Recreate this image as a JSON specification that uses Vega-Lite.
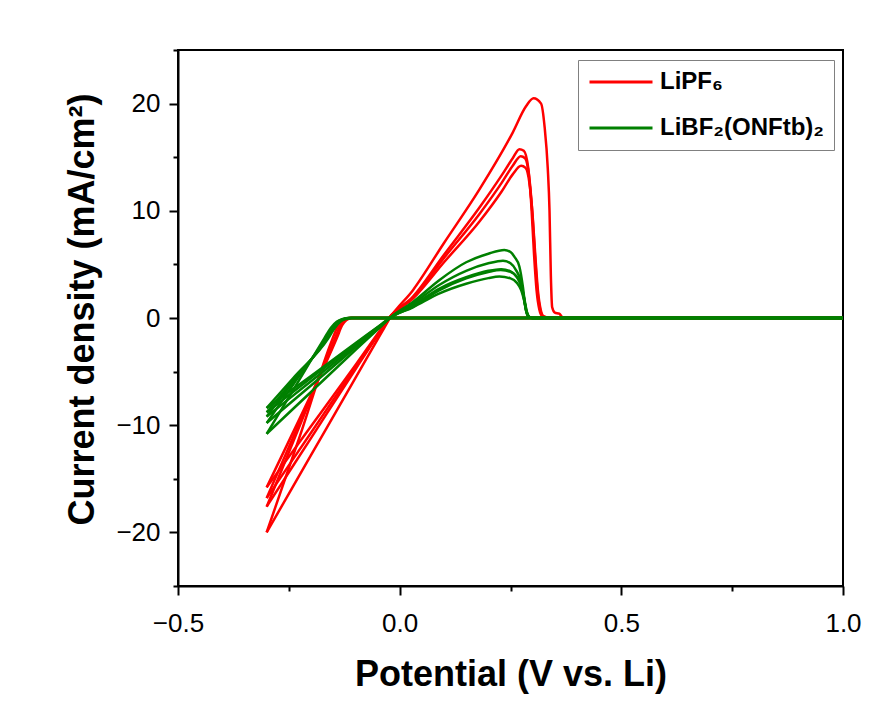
{
"$schema": "https://vega.github.io/schema/vega-lite/v6.json",
"width": 665, "height": 536,
"autosize": {"type": "none"},
"padding": {"left": 178, "top": 50, "right": 29, "bottom": 116},
"background": "white",
"config": {
  "view": {"stroke": "black", "strokeWidth": 2},
  "axis": {"domainColor": "black", "domainWidth": 2, "tickColor": "black", "tickWidth": 2, "grid": false, "labelFont": "Liberation Sans", "labelColor": "black", "labelFontSize": 26, "titleFont": "Liberation Sans", "titleFontWeight": "bold", "titleColor": "black", "titleFontSize": 36, "labelFlush": false, "labelOverlap": false}
},
"data": {"values": [
{"s":"LiPF₆","g":"R1c","x":1,"y":0},{"s":"LiPF₆","g":"R1c","x":0.3,"y":0},{"s":"LiPF₆","g":"R1c","x":-0.115,"y":0},{"s":"LiPF₆","g":"R1c","x":-0.128,"y":-0.2},{"s":"LiPF₆","g":"R1c","x":-0.14,"y":-0.8},{"s":"LiPF₆","g":"R1c","x":-0.152,"y":-2.0},{"s":"LiPF₆","g":"R1c","x":-0.225,"y":-11.0},{"s":"LiPF₆","g":"R1c","x":-0.3,"y":-20.0},
{"s":"LiPF₆","g":"R1a","x":-0.3,"y":-20},{"s":"LiPF₆","g":"R1a","x":-0.2,"y":-12.8},{"s":"LiPF₆","g":"R1a","x":-0.1,"y":-5.6},{"s":"LiPF₆","g":"R1a","x":-0.04,"y":-1.3},{"s":"LiPF₆","g":"R1a","x":-0.022,"y":0},{"s":"LiPF₆","g":"R1a","x":0.03,"y":2.6},{"s":"LiPF₆","g":"R1a","x":0.1,"y":7.0},{"s":"LiPF₆","g":"R1a","x":0.18,"y":12.0},{"s":"LiPF₆","g":"R1a","x":0.255,"y":17.3},{"s":"LiPF₆","g":"R1a","x":0.285,"y":19.75},{"s":"LiPF₆","g":"R1a","x":0.302,"y":20.5},{"s":"LiPF₆","g":"R1a","x":0.319,"y":20.0},{"s":"LiPF₆","g":"R1a","x":0.327,"y":17.8},{"s":"LiPF₆","g":"R1a","x":0.334,"y":14.0},{"s":"LiPF₆","g":"R1a","x":0.338,"y":10.0},{"s":"LiPF₆","g":"R1a","x":0.341,"y":4.0},{"s":"LiPF₆","g":"R1a","x":0.344,"y":1.0},{"s":"LiPF₆","g":"R1a","x":0.35,"y":0.5},{"s":"LiPF₆","g":"R1a","x":0.36,"y":0.4},{"s":"LiPF₆","g":"R1a","x":0.368,"y":0.05},{"s":"LiPF₆","g":"R1a","x":0.45,"y":0},{"s":"LiPF₆","g":"R1a","x":1,"y":0},
{"s":"LiPF₆","g":"R2c","x":1,"y":0},{"s":"LiPF₆","g":"R2c","x":0.3,"y":0},{"s":"LiPF₆","g":"R2c","x":-0.112,"y":0},{"s":"LiPF₆","g":"R2c","x":-0.124,"y":-0.2},{"s":"LiPF₆","g":"R2c","x":-0.134,"y":-0.7},{"s":"LiPF₆","g":"R2c","x":-0.145,"y":-1.8},{"s":"LiPF₆","g":"R2c","x":-0.22,"y":-9.5},{"s":"LiPF₆","g":"R2c","x":-0.3,"y":-17.6},
{"s":"LiPF₆","g":"R2a","x":-0.3,"y":-17.6},{"s":"LiPF₆","g":"R2a","x":-0.2,"y":-11.2},{"s":"LiPF₆","g":"R2a","x":-0.1,"y":-4.8},{"s":"LiPF₆","g":"R2a","x":-0.04,"y":-1.0},{"s":"LiPF₆","g":"R2a","x":-0.024,"y":0},{"s":"LiPF₆","g":"R2a","x":0.03,"y":2.0},{"s":"LiPF₆","g":"R2a","x":0.1,"y":5.9},{"s":"LiPF₆","g":"R2a","x":0.18,"y":10.3},{"s":"LiPF₆","g":"R2a","x":0.23,"y":13.3},{"s":"LiPF₆","g":"R2a","x":0.255,"y":14.9},{"s":"LiPF₆","g":"R2a","x":0.27,"y":15.75},{"s":"LiPF₆","g":"R2a","x":0.28,"y":15.6},{"s":"LiPF₆","g":"R2a","x":0.29,"y":14.0},{"s":"LiPF₆","g":"R2a","x":0.297,"y":10.5},{"s":"LiPF₆","g":"R2a","x":0.303,"y":6.0},{"s":"LiPF₆","g":"R2a","x":0.309,"y":2.5},{"s":"LiPF₆","g":"R2a","x":0.315,"y":0.8},{"s":"LiPF₆","g":"R2a","x":0.322,"y":0.15},{"s":"LiPF₆","g":"R2a","x":0.34,"y":0},{"s":"LiPF₆","g":"R2a","x":1,"y":0},
{"s":"LiPF₆","g":"R3c","x":1,"y":0},{"s":"LiPF₆","g":"R3c","x":0.3,"y":0},{"s":"LiPF₆","g":"R3c","x":-0.11,"y":0},{"s":"LiPF₆","g":"R3c","x":-0.122,"y":-0.2},{"s":"LiPF₆","g":"R3c","x":-0.132,"y":-0.7},{"s":"LiPF₆","g":"R3c","x":-0.143,"y":-1.8},{"s":"LiPF₆","g":"R3c","x":-0.22,"y":-9.2},{"s":"LiPF₆","g":"R3c","x":-0.3,"y":-16.8},
{"s":"LiPF₆","g":"R3a","x":-0.3,"y":-16.8},{"s":"LiPF₆","g":"R3a","x":-0.2,"y":-10.7},{"s":"LiPF₆","g":"R3a","x":-0.1,"y":-4.6},{"s":"LiPF₆","g":"R3a","x":-0.04,"y":-1.0},{"s":"LiPF₆","g":"R3a","x":-0.024,"y":0},{"s":"LiPF₆","g":"R3a","x":0.03,"y":1.9},{"s":"LiPF₆","g":"R3a","x":0.1,"y":5.6},{"s":"LiPF₆","g":"R3a","x":0.18,"y":9.7},{"s":"LiPF₆","g":"R3a","x":0.23,"y":12.6},{"s":"LiPF₆","g":"R3a","x":0.255,"y":14.2},{"s":"LiPF₆","g":"R3a","x":0.273,"y":15.1},{"s":"LiPF₆","g":"R3a","x":0.283,"y":14.9},{"s":"LiPF₆","g":"R3a","x":0.292,"y":13.2},{"s":"LiPF₆","g":"R3a","x":0.299,"y":10.0},{"s":"LiPF₆","g":"R3a","x":0.305,"y":6.0},{"s":"LiPF₆","g":"R3a","x":0.311,"y":2.5},{"s":"LiPF₆","g":"R3a","x":0.317,"y":0.8},{"s":"LiPF₆","g":"R3a","x":0.324,"y":0.15},{"s":"LiPF₆","g":"R3a","x":0.34,"y":0},{"s":"LiPF₆","g":"R3a","x":1,"y":0},
{"s":"LiPF₆","g":"R4c","x":1,"y":0},{"s":"LiPF₆","g":"R4c","x":0.3,"y":0},{"s":"LiPF₆","g":"R4c","x":-0.108,"y":0},{"s":"LiPF₆","g":"R4c","x":-0.12,"y":-0.2},{"s":"LiPF₆","g":"R4c","x":-0.13,"y":-0.7},{"s":"LiPF₆","g":"R4c","x":-0.141,"y":-1.8},{"s":"LiPF₆","g":"R4c","x":-0.22,"y":-8.9},{"s":"LiPF₆","g":"R4c","x":-0.3,"y":-15.8},
{"s":"LiPF₆","g":"R4a","x":-0.3,"y":-15.8},{"s":"LiPF₆","g":"R4a","x":-0.2,"y":-10.1},{"s":"LiPF₆","g":"R4a","x":-0.1,"y":-4.4},{"s":"LiPF₆","g":"R4a","x":-0.04,"y":-0.9},{"s":"LiPF₆","g":"R4a","x":-0.024,"y":0},{"s":"LiPF₆","g":"R4a","x":0.03,"y":1.8},{"s":"LiPF₆","g":"R4a","x":0.1,"y":5.2},{"s":"LiPF₆","g":"R4a","x":0.18,"y":9.0},{"s":"LiPF₆","g":"R4a","x":0.23,"y":11.8},{"s":"LiPF₆","g":"R4a","x":0.255,"y":13.4},{"s":"LiPF₆","g":"R4a","x":0.274,"y":14.2},{"s":"LiPF₆","g":"R4a","x":0.284,"y":14.0},{"s":"LiPF₆","g":"R4a","x":0.293,"y":12.5},{"s":"LiPF₆","g":"R4a","x":0.3,"y":9.5},{"s":"LiPF₆","g":"R4a","x":0.306,"y":5.8},{"s":"LiPF₆","g":"R4a","x":0.312,"y":2.5},{"s":"LiPF₆","g":"R4a","x":0.318,"y":0.8},{"s":"LiPF₆","g":"R4a","x":0.325,"y":0.15},{"s":"LiPF₆","g":"R4a","x":0.34,"y":0},{"s":"LiPF₆","g":"R4a","x":1,"y":0},
{"s":"LiBF₂(ONFtb)₂","g":"G1c","x":1,"y":0},{"s":"LiBF₂(ONFtb)₂","g":"G1c","x":0.3,"y":0},{"s":"LiBF₂(ONFtb)₂","g":"G1c","x":-0.115,"y":0},{"s":"LiBF₂(ONFtb)₂","g":"G1c","x":-0.13,"y":-0.1},{"s":"LiBF₂(ONFtb)₂","g":"G1c","x":-0.142,"y":-0.35},{"s":"LiBF₂(ONFtb)₂","g":"G1c","x":-0.155,"y":-0.9},{"s":"LiBF₂(ONFtb)₂","g":"G1c","x":-0.17,"y":-1.9},{"s":"LiBF₂(ONFtb)₂","g":"G1c","x":-0.24,"y":-6.7},{"s":"LiBF₂(ONFtb)₂","g":"G1c","x":-0.3,"y":-10.8},
{"s":"LiBF₂(ONFtb)₂","g":"G1a","x":-0.3,"y":-10.8},{"s":"LiBF₂(ONFtb)₂","g":"G1a","x":-0.2,"y":-6.9},{"s":"LiBF₂(ONFtb)₂","g":"G1a","x":-0.1,"y":-3.0},{"s":"LiBF₂(ONFtb)₂","g":"G1a","x":-0.04,"y":-0.7},{"s":"LiBF₂(ONFtb)₂","g":"G1a","x":-0.022,"y":0},{"s":"LiBF₂(ONFtb)₂","g":"G1a","x":0.03,"y":1.5},{"s":"LiBF₂(ONFtb)₂","g":"G1a","x":0.09,"y":3.55},{"s":"LiBF₂(ONFtb)₂","g":"G1a","x":0.15,"y":5.2},{"s":"LiBF₂(ONFtb)₂","g":"G1a","x":0.2,"y":6.0},{"s":"LiBF₂(ONFtb)₂","g":"G1a","x":0.236,"y":6.35},{"s":"LiBF₂(ONFtb)₂","g":"G1a","x":0.25,"y":6.15},{"s":"LiBF₂(ONFtb)₂","g":"G1a","x":0.259,"y":5.7},{"s":"LiBF₂(ONFtb)₂","g":"G1a","x":0.27,"y":4.8},{"s":"LiBF₂(ONFtb)₂","g":"G1a","x":0.278,"y":2.9},{"s":"LiBF₂(ONFtb)₂","g":"G1a","x":0.284,"y":0.9},{"s":"LiBF₂(ONFtb)₂","g":"G1a","x":0.29,"y":0.15},{"s":"LiBF₂(ONFtb)₂","g":"G1a","x":0.3,"y":0},{"s":"LiBF₂(ONFtb)₂","g":"G1a","x":1,"y":0},
{"s":"LiBF₂(ONFtb)₂","g":"G2c","x":1,"y":0},{"s":"LiBF₂(ONFtb)₂","g":"G2c","x":0.3,"y":0},{"s":"LiBF₂(ONFtb)₂","g":"G2c","x":-0.113,"y":0},{"s":"LiBF₂(ONFtb)₂","g":"G2c","x":-0.128,"y":-0.1},{"s":"LiBF₂(ONFtb)₂","g":"G2c","x":-0.14,"y":-0.35},{"s":"LiBF₂(ONFtb)₂","g":"G2c","x":-0.152,"y":-0.9},{"s":"LiBF₂(ONFtb)₂","g":"G2c","x":-0.167,"y":-1.9},{"s":"LiBF₂(ONFtb)₂","g":"G2c","x":-0.24,"y":-6.2},{"s":"LiBF₂(ONFtb)₂","g":"G2c","x":-0.3,"y":-9.8},
{"s":"LiBF₂(ONFtb)₂","g":"G2a","x":-0.3,"y":-9.8},{"s":"LiBF₂(ONFtb)₂","g":"G2a","x":-0.2,"y":-6.3},{"s":"LiBF₂(ONFtb)₂","g":"G2a","x":-0.1,"y":-2.75},{"s":"LiBF₂(ONFtb)₂","g":"G2a","x":-0.04,"y":-0.65},{"s":"LiBF₂(ONFtb)₂","g":"G2a","x":-0.022,"y":0},{"s":"LiBF₂(ONFtb)₂","g":"G2a","x":0.03,"y":1.35},{"s":"LiBF₂(ONFtb)₂","g":"G2a","x":0.09,"y":3.1},{"s":"LiBF₂(ONFtb)₂","g":"G2a","x":0.15,"y":4.4},{"s":"LiBF₂(ONFtb)₂","g":"G2a","x":0.2,"y":5.1},{"s":"LiBF₂(ONFtb)₂","g":"G2a","x":0.233,"y":5.35},{"s":"LiBF₂(ONFtb)₂","g":"G2a","x":0.25,"y":5.1},{"s":"LiBF₂(ONFtb)₂","g":"G2a","x":0.262,"y":4.5},{"s":"LiBF₂(ONFtb)₂","g":"G2a","x":0.272,"y":3.6},{"s":"LiBF₂(ONFtb)₂","g":"G2a","x":0.279,"y":2.2},{"s":"LiBF₂(ONFtb)₂","g":"G2a","x":0.285,"y":0.7},{"s":"LiBF₂(ONFtb)₂","g":"G2a","x":0.291,"y":0.1},{"s":"LiBF₂(ONFtb)₂","g":"G2a","x":0.3,"y":0},{"s":"LiBF₂(ONFtb)₂","g":"G2a","x":1,"y":0},
{"s":"LiBF₂(ONFtb)₂","g":"G3c","x":1,"y":0},{"s":"LiBF₂(ONFtb)₂","g":"G3c","x":0.3,"y":0},{"s":"LiBF₂(ONFtb)₂","g":"G3c","x":-0.111,"y":0},{"s":"LiBF₂(ONFtb)₂","g":"G3c","x":-0.126,"y":-0.1},{"s":"LiBF₂(ONFtb)₂","g":"G3c","x":-0.138,"y":-0.35},{"s":"LiBF₂(ONFtb)₂","g":"G3c","x":-0.15,"y":-0.9},{"s":"LiBF₂(ONFtb)₂","g":"G3c","x":-0.165,"y":-1.9},{"s":"LiBF₂(ONFtb)₂","g":"G3c","x":-0.24,"y":-5.95},{"s":"LiBF₂(ONFtb)₂","g":"G3c","x":-0.3,"y":-9.2},
{"s":"LiBF₂(ONFtb)₂","g":"G3a","x":-0.3,"y":-9.2},{"s":"LiBF₂(ONFtb)₂","g":"G3a","x":-0.2,"y":-5.9},{"s":"LiBF₂(ONFtb)₂","g":"G3a","x":-0.1,"y":-2.6},{"s":"LiBF₂(ONFtb)₂","g":"G3a","x":-0.04,"y":-0.6},{"s":"LiBF₂(ONFtb)₂","g":"G3a","x":-0.022,"y":0},{"s":"LiBF₂(ONFtb)₂","g":"G3a","x":0.03,"y":1.2},{"s":"LiBF₂(ONFtb)₂","g":"G3a","x":0.09,"y":2.75},{"s":"LiBF₂(ONFtb)₂","g":"G3a","x":0.15,"y":3.8},{"s":"LiBF₂(ONFtb)₂","g":"G3a","x":0.2,"y":4.4},{"s":"LiBF₂(ONFtb)₂","g":"G3a","x":0.229,"y":4.55},{"s":"LiBF₂(ONFtb)₂","g":"G3a","x":0.25,"y":4.35},{"s":"LiBF₂(ONFtb)₂","g":"G3a","x":0.263,"y":3.9},{"s":"LiBF₂(ONFtb)₂","g":"G3a","x":0.273,"y":3.1},{"s":"LiBF₂(ONFtb)₂","g":"G3a","x":0.28,"y":1.9},{"s":"LiBF₂(ONFtb)₂","g":"G3a","x":0.286,"y":0.6},{"s":"LiBF₂(ONFtb)₂","g":"G3a","x":0.292,"y":0.1},{"s":"LiBF₂(ONFtb)₂","g":"G3a","x":0.3,"y":0},{"s":"LiBF₂(ONFtb)₂","g":"G3a","x":1,"y":0},
{"s":"LiBF₂(ONFtb)₂","g":"G4c","x":1,"y":0},{"s":"LiBF₂(ONFtb)₂","g":"G4c","x":0.3,"y":0},{"s":"LiBF₂(ONFtb)₂","g":"G4c","x":-0.109,"y":0},{"s":"LiBF₂(ONFtb)₂","g":"G4c","x":-0.124,"y":-0.1},{"s":"LiBF₂(ONFtb)₂","g":"G4c","x":-0.136,"y":-0.35},{"s":"LiBF₂(ONFtb)₂","g":"G4c","x":-0.148,"y":-0.9},{"s":"LiBF₂(ONFtb)₂","g":"G4c","x":-0.163,"y":-1.9},{"s":"LiBF₂(ONFtb)₂","g":"G4c","x":-0.24,"y":-5.8},{"s":"LiBF₂(ONFtb)₂","g":"G4c","x":-0.3,"y":-8.8},
{"s":"LiBF₂(ONFtb)₂","g":"G4a","x":-0.3,"y":-8.8},{"s":"LiBF₂(ONFtb)₂","g":"G4a","x":-0.2,"y":-5.6},{"s":"LiBF₂(ONFtb)₂","g":"G4a","x":-0.1,"y":-2.45},{"s":"LiBF₂(ONFtb)₂","g":"G4a","x":-0.04,"y":-0.55},{"s":"LiBF₂(ONFtb)₂","g":"G4a","x":-0.022,"y":0},{"s":"LiBF₂(ONFtb)₂","g":"G4a","x":0.03,"y":1.0},{"s":"LiBF₂(ONFtb)₂","g":"G4a","x":0.09,"y":2.3},{"s":"LiBF₂(ONFtb)₂","g":"G4a","x":0.15,"y":3.2},{"s":"LiBF₂(ONFtb)₂","g":"G4a","x":0.2,"y":3.72},{"s":"LiBF₂(ONFtb)₂","g":"G4a","x":0.225,"y":3.86},{"s":"LiBF₂(ONFtb)₂","g":"G4a","x":0.25,"y":3.7},{"s":"LiBF₂(ONFtb)₂","g":"G4a","x":0.264,"y":3.3},{"s":"LiBF₂(ONFtb)₂","g":"G4a","x":0.274,"y":2.6},{"s":"LiBF₂(ONFtb)₂","g":"G4a","x":0.281,"y":1.6},{"s":"LiBF₂(ONFtb)₂","g":"G4a","x":0.287,"y":0.5},{"s":"LiBF₂(ONFtb)₂","g":"G4a","x":0.293,"y":0.08},{"s":"LiBF₂(ONFtb)₂","g":"G4a","x":0.3,"y":0},{"s":"LiBF₂(ONFtb)₂","g":"G4a","x":1,"y":0},
{"s":"LiBF₂(ONFtb)₂","g":"G5c","x":1,"y":0},{"s":"LiBF₂(ONFtb)₂","g":"G5c","x":0.3,"y":0},{"s":"LiBF₂(ONFtb)₂","g":"G5c","x":-0.107,"y":0},{"s":"LiBF₂(ONFtb)₂","g":"G5c","x":-0.122,"y":-0.1},{"s":"LiBF₂(ONFtb)₂","g":"G5c","x":-0.134,"y":-0.35},{"s":"LiBF₂(ONFtb)₂","g":"G5c","x":-0.146,"y":-0.9},{"s":"LiBF₂(ONFtb)₂","g":"G5c","x":-0.161,"y":-1.9},{"s":"LiBF₂(ONFtb)₂","g":"G5c","x":-0.24,"y":-5.6},{"s":"LiBF₂(ONFtb)₂","g":"G5c","x":-0.3,"y":-8.4},
{"s":"LiBF₂(ONFtb)₂","g":"G5a","x":-0.3,"y":-8.4},{"s":"LiBF₂(ONFtb)₂","g":"G5a","x":-0.2,"y":-5.4},{"s":"LiBF₂(ONFtb)₂","g":"G5a","x":-0.1,"y":-2.35},{"s":"LiBF₂(ONFtb)₂","g":"G5a","x":-0.04,"y":-0.55},{"s":"LiBF₂(ONFtb)₂","g":"G5a","x":-0.022,"y":0},{"s":"LiBF₂(ONFtb)₂","g":"G5a","x":0.03,"y":1.05},{"s":"LiBF₂(ONFtb)₂","g":"G5a","x":0.09,"y":2.6},{"s":"LiBF₂(ONFtb)₂","g":"G5a","x":0.15,"y":3.7},{"s":"LiBF₂(ONFtb)₂","g":"G5a","x":0.2,"y":4.3},{"s":"LiBF₂(ONFtb)₂","g":"G5a","x":0.228,"y":4.48},{"s":"LiBF₂(ONFtb)₂","g":"G5a","x":0.25,"y":4.3},{"s":"LiBF₂(ONFtb)₂","g":"G5a","x":0.264,"y":3.85},{"s":"LiBF₂(ONFtb)₂","g":"G5a","x":0.274,"y":3.05},{"s":"LiBF₂(ONFtb)₂","g":"G5a","x":0.281,"y":1.85},{"s":"LiBF₂(ONFtb)₂","g":"G5a","x":0.287,"y":0.58},{"s":"LiBF₂(ONFtb)₂","g":"G5a","x":0.293,"y":0.09},{"s":"LiBF₂(ONFtb)₂","g":"G5a","x":0.3,"y":0},{"s":"LiBF₂(ONFtb)₂","g":"G5a","x":1,"y":0}
]},
"mark": {"type": "line", "interpolate": "monotone", "strokeWidth": 2.5},
"encoding": {
  "x": {"field": "x", "type": "quantitative", "title": "Potential (V vs. Li)",
        "scale": {"domain": [-0.5, 1.0], "nice": false, "zero": false},
        "axis": {"values": [-0.5, -0.25, 0, 0.25, 0.5, 0.75, 1], "format": ".1f",
                 "labelExpr": "abs(datum.value % 0.5) < 1e-9 ? datum.label : ''",
                 "tickSize": {"condition": {"test": "abs(datum.value % 0.5) > 1e-9", "value": 5}, "value": 9},
                 "labelPadding": 15, "titleY": 99, "titleBaseline": "alphabetic"}},
  "y": {"field": "y", "type": "quantitative", "title": "Current density (mA/cm²)",
        "scale": {"domain": [-25, 25], "nice": false, "zero": false},
        "axis": {"values": [-25, -20, -15, -10, -5, 0, 5, 10, 15, 20, 25], "format": "d",
                 "labelExpr": "datum.value % 10 === 0 ? datum.label : ''",
                 "tickSize": {"condition": {"test": "datum.value % 10 !== 0", "value": 5}, "value": 9},
                 "labelPadding": 9, "titleX": -96, "titleY": 259, "titleAngle": 270, "titleAlign": "center", "titleBaseline": "middle"}},
  "color": {"field": "s", "type": "nominal",
            "scale": {"domain": ["LiPF₆", "LiBF₂(ONFtb)₂"], "range": ["#ff0000", "#008000"]},
            "legend": {"title": null, "orient": "none", "legendX": 400, "legendY": 10, "symbolType": "stroke", "symbolSize": 3969, "symbolStrokeWidth": 3, "labelFont": "Liberation Sans", "labelFontWeight": "bold", "labelFontSize": 24, "labelColor": "black", "labelLimit": 400, "strokeColor": "#808080", "padding": 10, "rowPadding": 22, "clipHeight": 24, "labelOffset": 6}},
  "detail": {"field": "g"}
}
}
